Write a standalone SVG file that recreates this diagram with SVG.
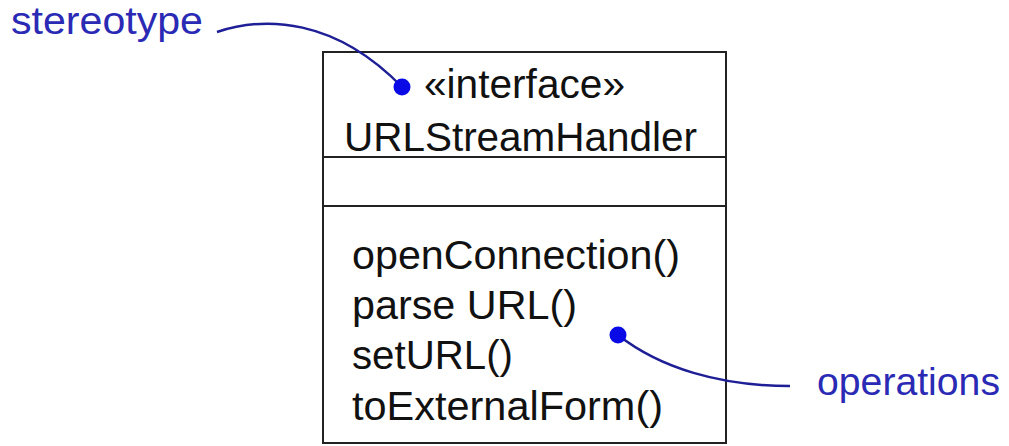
<svg xmlns="http://www.w3.org/2000/svg" width="1009" height="446" viewBox="0 0 1009 446">
  <style>
    .box { fill: #ffffff; stroke: #222222; stroke-width: 2; }
    .div { stroke: #222222; stroke-width: 2; }
    .t { font-family: "Liberation Sans", Arial, sans-serif; font-size: 40px; fill: #111111; }
    .note { font-family: "Liberation Sans", Arial, sans-serif; font-size: 38px; fill: #2a2ab4; }
    .conn { fill: none; stroke: #1e1e96; stroke-width: 2.5; }
    .dot { fill: #0a0ae6; }
  </style>
  <rect width="1009" height="446" fill="#ffffff"/>
  <g id="class-URLStreamHandler">
    <rect class="box" x="323" y="52" width="403" height="391"/>
    <line class="div" x1="323" y1="157" x2="726" y2="157"/>
    <line class="div" x1="323" y1="206" x2="726" y2="206"/>
    <text class="t" x="424" y="98" textLength="201" lengthAdjust="spacingAndGlyphs">«interface»</text>
    <text class="t" x="344" y="151" textLength="353" lengthAdjust="spacingAndGlyphs">URLStreamHandler</text>
    <text class="t" x="352" y="269" textLength="328" lengthAdjust="spacingAndGlyphs">openConnection()</text>
    <text class="t" x="352" y="319" textLength="225" lengthAdjust="spacingAndGlyphs">parse URL()</text>
    <text class="t" x="352" y="369" textLength="161" lengthAdjust="spacingAndGlyphs">setURL()</text>
    <text class="t" x="352" y="420" textLength="311" lengthAdjust="spacingAndGlyphs">toExternalForm()</text>
  </g>
  <g id="label-stereotype">
    <text class="note" x="11" y="34" textLength="192" lengthAdjust="spacingAndGlyphs">stereotype</text>
  </g>
  <g id="label-operations">
    <text class="note" x="817" y="395" textLength="183" lengthAdjust="spacingAndGlyphs">operations</text>
  </g>
  <g id="connectors">
    <path class="conn" d="M217,32 C265,16 335,18 402,87"/>
    <circle class="dot" cx="402" cy="87" r="8.5"/>
    <path class="conn" d="M618,335 C660,368 720,386 790,386"/>
    <circle class="dot" cx="618" cy="335" r="8.5"/>
  </g>
</svg>
